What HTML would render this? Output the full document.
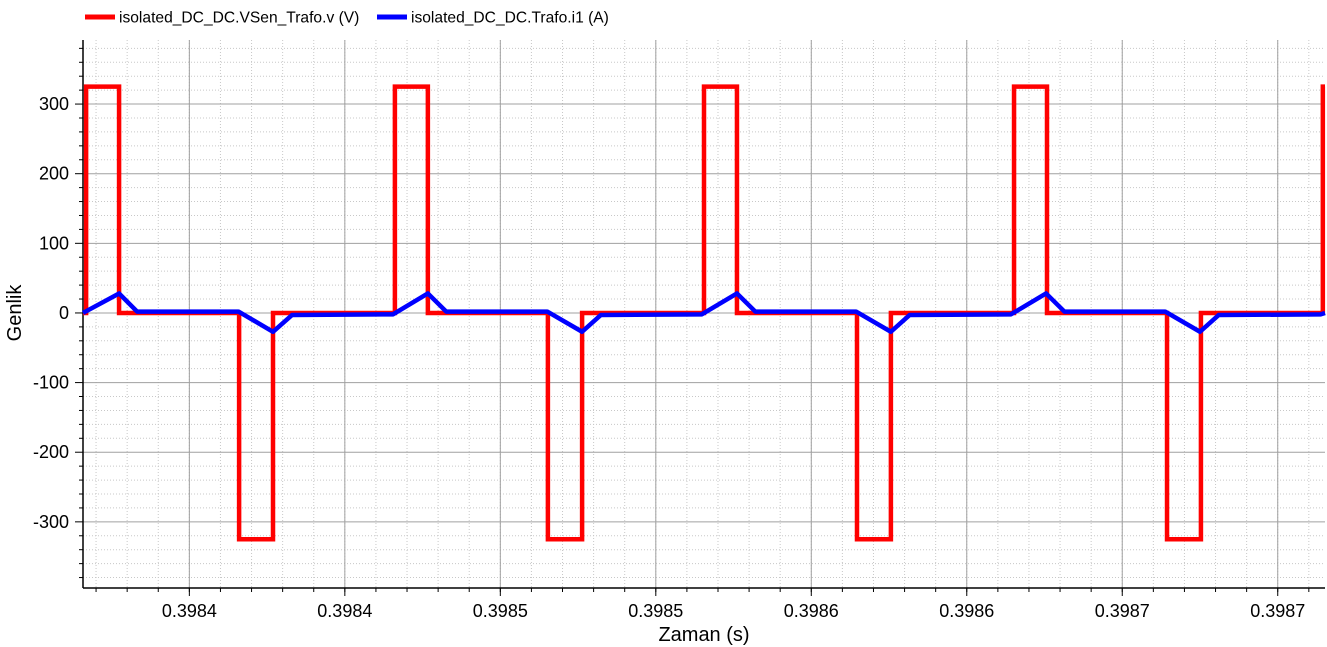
<!DOCTYPE html>
<html><head><meta charset="utf-8"><style>
body{margin:0;background:#fff;font-family:"Liberation Sans",Arial,sans-serif;}
svg{display:block}
</style></head><body>
<svg id="chart" width="1327" height="647" xmlns="http://www.w3.org/2000/svg">
<g id="grid"></g>
<g id="axes"></g>
<g id="series"></g>
<g>
 <g>
  <line x1="85" y1="17" x2="115" y2="17" stroke="#ff0000" stroke-width="5"/>
  <text x="119" y="22.5" font-size="15.6" fill="#000">isolated_DC_DC.VSen_Trafo.v (V)</text>
 </g>
 <g>
  <line x1="377" y1="17" x2="407" y2="17" stroke="#0000ff" stroke-width="5"/>
  <text x="411" y="22.5" font-size="15.6" fill="#000">isolated_DC_DC.Trafo.i1 (A)</text>
 </g>
</g>
<text x="704" y="641" font-size="20" text-anchor="middle">Zaman (s)</text>
<text transform="translate(21,313) rotate(-90)" font-size="20" text-anchor="middle">Genlik</text>
</svg>
<script>
// data (time in µs from left edge, values in V / A)
const redTimes = [0, 0.10, 1.16, 5.02, 6.11, 10.03, 11.09, 14.95, 16.05, 19.97, 21.03, 24.89, 25.98, 29.94, 31.0, 34.86, 35.95, 39.87];
const redValues = [0, 325, 0, -325, 0, 325, 0, -325, 0, 325, 0, -325, 0, 325, 0, -325, 0, 325];
const blueTimes = [0, 1.16, 1.74, 5.0, 6.11, 6.72, 9.97, 11.09, 11.68, 14.93, 16.05, 16.65, 19.9, 21.03, 21.62, 24.86, 25.98, 26.58, 29.84, 30.97, 31.56, 34.8, 35.92, 36.52, 39.8, 39.94];
const blueValues = [0, 28, 2, 2, -27, -3, -2, 28, 2, 2, -27, -3, -2, 28, 2, 2, -27, -3, -2, 28, 2, 2, -27, -3, -2, 0];
const yTicks = [-300, -200, -100, 0, 100, 200, 300];
const xTickTimes = [3.42, 8.42, 13.42, 18.42, 23.42, 28.42, 33.42, 38.42];
const xTickLabels = ["0.3984", "0.3984", "0.3985", "0.3985", "0.3986", "0.3986", "0.3987", "0.3987"];

const L = 83, R = 1325, T = 40, B = 588;
const xMin = 0, xMax = 39.94, yMin = -395, yMax = 392;
const X = t => L + (t - xMin) / (xMax - xMin) * (R - L);
const Y = v => B - (v - yMin) / (yMax - yMin) * (B - T);
const NS = "http://www.w3.org/2000/svg";
function mk(tag, attrs, parent) {
  const e = document.createElementNS(NS, tag);
  for (const k in attrs) e.setAttribute(k, attrs[k]);
  parent.appendChild(e);
  return e;
}
const grid = document.getElementById('grid'), axes = document.getElementById('axes'), series = document.getElementById('series');

for (let v = -380; v <= 380; v += 20) {
  if (v % 100 === 0) continue;
  const l = mk('line', {x1: L, x2: R, y1: Y(v), y2: Y(v), stroke: '#c8c8c8', 'stroke-dasharray': '1,2'}, grid);
  
  
  const tk = mk('line', {x1: L - 4, x2: L, y1: Y(v), y2: Y(v), stroke: '#000'}, axes);
  
  
}
const step = 1;
for (let t = xTickTimes[0] - 5; t <= xMax; t += step) {
  if (t < xMin) continue;
  const l = mk('line', {x1: X(t), x2: X(t), y1: T, y2: B, stroke: '#c8c8c8', 'stroke-dasharray': '1,2'}, grid);
  
  
  const tk = mk('line', {x1: X(t), x2: X(t), y1: B, y2: B + 4, stroke: '#000'}, axes);
  
  
}
yTicks.forEach(v => {
  const l = mk('line', {x1: L, x2: R, y1: Y(v), y2: Y(v), stroke: '#a0a0a0'}, grid);
  
  
  const tk = mk('line', {x1: L - 8, x2: L, y1: Y(v), y2: Y(v), stroke: '#000'}, axes);
  
  
  const tx = mk('text', {x: 69, y: Y(v) + 6, 'font-size': 18, 'text-anchor': 'end'}, axes);
  tx.textContent = v;
  
  
});
xTickTimes.forEach((t, i) => {
  const l = mk('line', {x1: X(t), x2: X(t), y1: T, y2: B, stroke: '#a0a0a0'}, grid);
  
  
  const tk = mk('line', {x1: X(t), x2: X(t), y1: B, y2: B + 8, stroke: '#000'}, axes);
  
  
  const tx = mk('text', {x: X(t), y: 617, 'font-size': 18, 'text-anchor': 'middle'}, axes);
  tx.textContent = xTickLabels[i];
  
  
});
const ya = mk('line', {x1: L, x2: L, y1: T, y2: B, stroke: '#000', 'stroke-width': 1.5}, axes);


const xa = mk('line', {x1: L, x2: R, y1: B, y2: B, stroke: '#000', 'stroke-width': 1.5}, axes);



let d = '';
redTimes.forEach((t, i) => {
  if (i === 0) d += `M${X(t)},${Y(redValues[i])}`;
  else d += `L${X(t)},${Y(redValues[i - 1])}L${X(t)},${Y(redValues[i])}`;
});
d += `L${X(xMax)},${Y(redValues[redValues.length - 1])}`;
const red = mk('path', {d, fill: 'none', stroke: '#ff0000', 'stroke-width': 4.5, 'stroke-linejoin': 'miter'}, series);



const bd = blueTimes.map((t, i) => (i ? 'L' : 'M') + X(t) + ',' + Y(blueValues[i])).join('');
const blue = mk('path', {d: bd, fill: 'none', stroke: '#0000ff', 'stroke-width': 4.5, 'stroke-linejoin': 'round'}, series);


</script>
</body></html>
